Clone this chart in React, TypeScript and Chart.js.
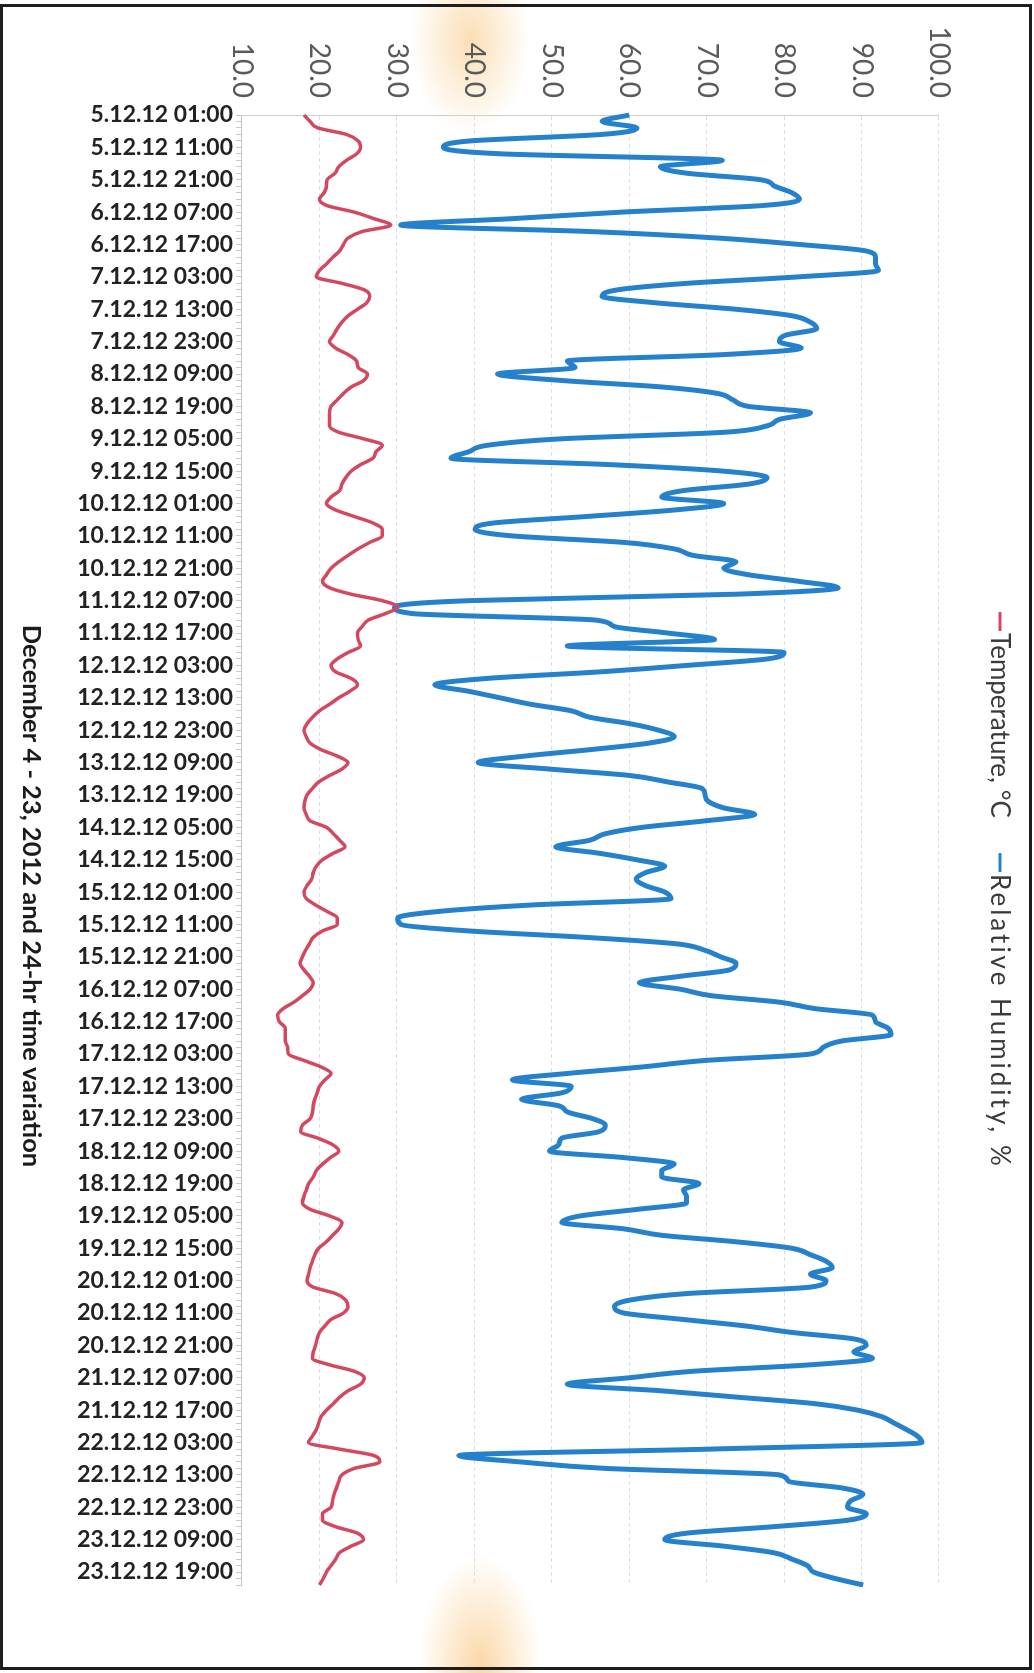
import React, { useEffect, useRef } from 'react';
import { Chart, registerables } from 'chart.js';

Chart.register(...registerables);

// ---- data ----
const DAYS = [5, 6, 7, 8, 9, 10, 11, 12, 13, 14, 15, 16, 17, 18, 19, 20, 21, 22, 23];
const HOURS = ['01:00', '03:00', '05:00', '07:00', '09:00', '11:00', '13:00', '15:00', '17:00', '19:00', '21:00', '23:00'];
const SERIES_NAMES = ['Temperature, °C', 'Relative Humidity, %'];
const AXIS_TITLE = 'December 4 - 23, 2012 and 24-hr time variation';
const VALUE_MIN = 10;
const VALUE_MAX = 100;
const VALUE_STEP = 10;
const LABEL_EVERY = 5; // a label every 10 hours

const TEMPERATURE = [
  18.0, 18.8, 19.8, 23.5, 25.0, 25.3, 24.8, 23.5, 22.5, 22.0, 21.0, 20.9,
  20.6, 20.0, 21.0, 24.5, 27.0, 29.2, 25.5, 23.7, 23.1, 22.6, 21.7, 20.9,
  20.0, 19.6, 22.9, 25.8, 26.5, 26.1, 24.9, 23.7, 22.9, 22.3, 21.8, 21.3,
  22.1, 23.7, 24.8, 25.0, 26.2, 25.7, 24.1, 23.1, 22.3, 21.5, 21.3, 21.3,
  21.3, 22.5, 25.7, 28.1, 27.3, 26.9, 25.3, 24.1, 23.4, 22.9, 22.6, 21.5,
  20.9, 22.1, 24.5, 26.9, 28.1, 28.1, 26.5, 25.0, 23.7, 22.5, 21.5, 20.9,
  20.4, 21.3, 24.1, 28.1, 30.1, 28.5, 26.3, 25.5, 24.9, 25.0, 25.3, 23.7,
  22.3, 21.5, 22.1, 24.1, 24.9, 23.9, 22.5, 21.3, 20.0, 19.1, 18.4, 18.0,
  18.3, 18.8, 20.2, 22.3, 23.7, 22.9, 21.3, 19.9, 19.1, 18.4, 18.1, 18.0,
  18.3, 18.8, 20.9, 21.8, 22.6, 23.3, 21.8, 20.4, 19.6, 19.2, 19.0, 18.4,
  18.0, 18.3, 19.5, 21.0, 22.3, 22.3, 20.4, 19.2, 18.7, 18.2, 17.8, 17.5,
  18.0, 18.7, 19.2, 18.8, 17.8, 16.7, 15.3, 14.6, 14.8, 15.6, 15.6, 15.6,
  15.9, 16.0, 18.0, 20.2, 21.5, 20.7, 20.0, 19.7, 19.4, 19.2, 19.1, 18.8,
  17.8, 17.6, 19.8, 21.7, 22.5, 21.4, 20.4, 19.6, 19.2, 18.6, 18.3, 18.0,
  17.8, 18.8, 21.3, 22.9, 22.5, 21.7, 20.9, 19.9, 19.4, 19.1, 18.8, 18.6,
  18.4, 19.2, 22.1, 23.4, 23.7, 23.1, 21.5, 20.7, 20.0, 19.7, 19.5, 19.2,
  19.1, 21.3, 24.5, 25.8, 25.3, 23.7, 22.6, 21.8, 20.9, 20.2, 19.9, 19.6,
  19.1, 18.6, 22.5, 27.0, 27.8, 24.5, 22.9, 22.5, 22.2, 21.9, 21.7, 21.5,
  20.4, 20.4, 22.1, 24.9, 25.7, 24.1, 22.6, 22.1, 21.5, 20.9, 20.5, 20.0,
];

const HUMIDITY = [
  60.0, 56.5, 61.0, 56.5, 39.5, 36.0, 43.5, 72.0, 64.0, 67.5, 77.0, 78.8,
  81.0, 82.0, 77.0, 59.0, 45.0, 30.5, 55.0, 71.4, 82.0, 90.6, 91.8, 91.8,
  92.2, 81.8, 67.4, 58.5, 56.5, 63.4, 73.8, 81.0, 83.4, 84.2, 80.2, 79.4,
  82.2, 72.2, 52.0, 53.0, 43.0, 51.3, 64.2, 71.4, 73.4, 75.4, 83.4, 79.4,
  77.8, 72.2, 51.3, 41.7, 39.3, 37.0, 57.7, 72.2, 77.8, 75.4, 67.0, 64.2,
  72.2, 65.8, 54.5, 42.5, 40.1, 44.9, 59.3, 65.8, 68.2, 73.8, 72.2, 75.4,
  81.8, 87.0, 73.8, 39.3, 29.7, 32.1, 55.7, 58.1, 65.0, 71.0, 52.0, 80.0,
  77.8, 67.4, 56.1, 41.7, 34.9, 39.3, 43.3, 47.3, 52.5, 54.9, 60.1, 63.8,
  65.8, 62.5, 55.0, 46.5, 40.5, 49.7, 60.1, 65.0, 69.4, 69.8, 70.2, 72.2,
  76.2, 69.8, 61.7, 56.9, 54.9, 50.5, 56.1, 60.9, 64.6, 62.1, 60.9, 62.1,
  64.6, 65.4, 47.3, 35.3, 30.1, 30.5, 39.3, 54.5, 66.2, 69.8, 71.8, 73.8,
  73.0, 66.6, 61.3, 66.6, 70.6, 79.4, 84.0, 91.4, 91.8, 93.4, 93.8, 87.4,
  85.0, 83.4, 69.8, 61.7, 52.1, 44.9, 52.5, 51.3, 46.1, 50.9, 52.1, 55.3,
  56.9, 56.1, 51.3, 50.9, 49.7, 59.3, 65.8, 64.2, 64.2, 69.0, 67.0, 67.4,
  67.4, 61.0, 53.7, 51.3, 59.3, 64.2, 73.8, 81.0, 83.4, 85.4, 86.2, 83.4,
  85.4, 83.4, 67.4, 60.1, 58.1, 59.3, 67.0, 75.0, 81.0, 89.0, 90.6, 89.0,
  91.4, 83.4, 68.2, 60.0, 52.0, 64.0, 74.0, 84.0, 89.5, 92.6, 94.2, 95.8,
  97.2, 97.8, 71.0, 38.0, 46.0, 57.0, 79.4, 80.6, 87.4, 90.2, 88.6, 88.2,
  90.6, 88.2, 78.6, 67.4, 64.6, 72.2, 78.6, 81.0, 83.0, 83.8, 86.6, 90.2,
];

const LABELS = DAYS.flatMap((d) => HOURS.map((h) => `${d}.12.12 ${h}`));

// ---- styling ----
const RED = '#d4485f';
const BLUE = '#2581cc';
const CW = 1673; // canvas width (chart drawn unrotated)
const CH = 1034; // canvas height

const overlayPlugin = {
  id: 'overlay',
  afterDraw(chart: any) {
    const ctx = chart.ctx as any;
    ctx.save();
    // axis title (bottom of unrotated chart)
    ctx.font = 'bold 25.5px Lato';
    ctx.fillStyle = '#1b1b1b';
    ctx.textAlign = 'center';
    ctx.textBaseline = 'middle';
    ctx.fillText(AXIS_TITLE, 896, 1003);

    // legend (top of unrotated chart)
    const ly = 34;
    ctx.font = '26px Lato';
    ctx.fillStyle = '#3a3a3a';
    ctx.textAlign = 'left';
    const items = [
      { name: SERIES_NAMES[0], color: RED, x: 612, spacing: '0px' },
      { name: SERIES_NAMES[1], color: BLUE, x: 853, spacing: '3px' },
    ];
    for (const it of items) {
      ctx.strokeStyle = it.color;
      ctx.lineWidth = 3;
      ctx.beginPath();
      ctx.moveTo(it.x, ly);
      ctx.lineTo(it.x + 19, ly);
      ctx.stroke();
      ctx.letterSpacing = it.spacing;
      ctx.fillText(it.name, it.x + 21, ly + 1);
    }
    ctx.letterSpacing = '0px';
    ctx.restore();
  },
};

export default function App() {
  const ref = useRef<HTMLCanvasElement | null>(null);

  useEffect(() => {
    if (!ref.current) return;
    const chart = new Chart(ref.current, {
      type: 'line',
      data: {
        labels: LABELS,
        datasets: [
          {
            label: SERIES_NAMES[0],
            data: TEMPERATURE,
            borderColor: RED,
            backgroundColor: RED,
            borderWidth: 3.5,
            pointRadius: 0,
            cubicInterpolationMode: 'monotone',
            fill: false,
          },
          {
            label: SERIES_NAMES[1],
            data: HUMIDITY,
            borderColor: BLUE,
            backgroundColor: BLUE,
            borderWidth: 5,
            pointRadius: 0,
            cubicInterpolationMode: 'monotone',
            fill: false,
          },
        ],
      },
      options: {
        responsive: false,
        animation: false,
        events: [],
        layout: { padding: { left: 0, right: 88, top: 95, bottom: 0 } },
        plugins: {
          legend: { display: false },
          tooltip: { enabled: false },
          title: { display: false },
        },
        scales: {
          x: {
            type: 'category',
            offset: false,
            grid: {
              drawOnChartArea: false,
              drawTicks: true,
              tickLength: 6,
              tickColor: '#c8c8c8',
              color: '#c8c8c8',
            },
            border: { display: true, color: '#c4c4c4', width: 1 },
            ticks: {
              autoSkip: false,
              maxRotation: 90,
              minRotation: 90,
              padding: 3,
              color: '#222222',
              font: { family: 'Lato', size: 23, weight: 'bold' },
              callback: (_v: any, i: number) => (i % LABEL_EVERY === 0 ? LABELS[i] : ''),
            },
            afterFit: (s: any) => {
              s.height = 242;
            },
          },
          y: {
            min: VALUE_MIN,
            max: VALUE_MAX,
            ticks: {
              stepSize: VALUE_STEP,
              padding: 17,
              color: '#5a5a5a',
              font: { family: 'Lato', size: 28 },
              callback: (v: any) => Number(v).toFixed(1),
            },
            grid: { color: '#dcdcec', lineWidth: 1, drawTicks: false },
            border: { display: true, color: '#cfcfcf', dash: [4, 3] },
            afterFit: (s: any) => {
              s.width = 115;
            },
          },
        },
      },
      plugins: [overlayPlugin],
    } as any);
    return () => chart.destroy();
  }, []);

  return (
    <div
      style={{
        position: 'absolute',
        left: 0,
        top: 0,
        width: 1034,
        height: 1673,
        overflow: 'hidden',
        background:
          'radial-gradient(ellipse 60px 95px at 470px 40px, rgba(247,196,120,0.55), rgba(247,196,120,0)), radial-gradient(ellipse 62px 110px at 480px 1665px, rgba(247,190,110,0.6), rgba(247,190,110,0)), #ffffff',
      }}
    >
      <div
        style={{
          position: 'absolute',
          left: 0,
          top: 0,
          width: CW,
          height: CH,
          transformOrigin: '0 0',
          transform: `translate(${CH}px, 0px) rotate(90deg)`,
        }}
      >
        <canvas ref={ref} width={CW} height={CH} style={{ display: 'block', width: CW, height: CH }} />
      </div>
      <div
        style={{
          position: 'absolute',
          left: 0,
          top: 4,
          width: 1032,
          height: 1666,
          border: '3px solid #1e1e1e',
          boxSizing: 'border-box',
          pointerEvents: 'none',
        }}
      />
    </div>
  );
}
